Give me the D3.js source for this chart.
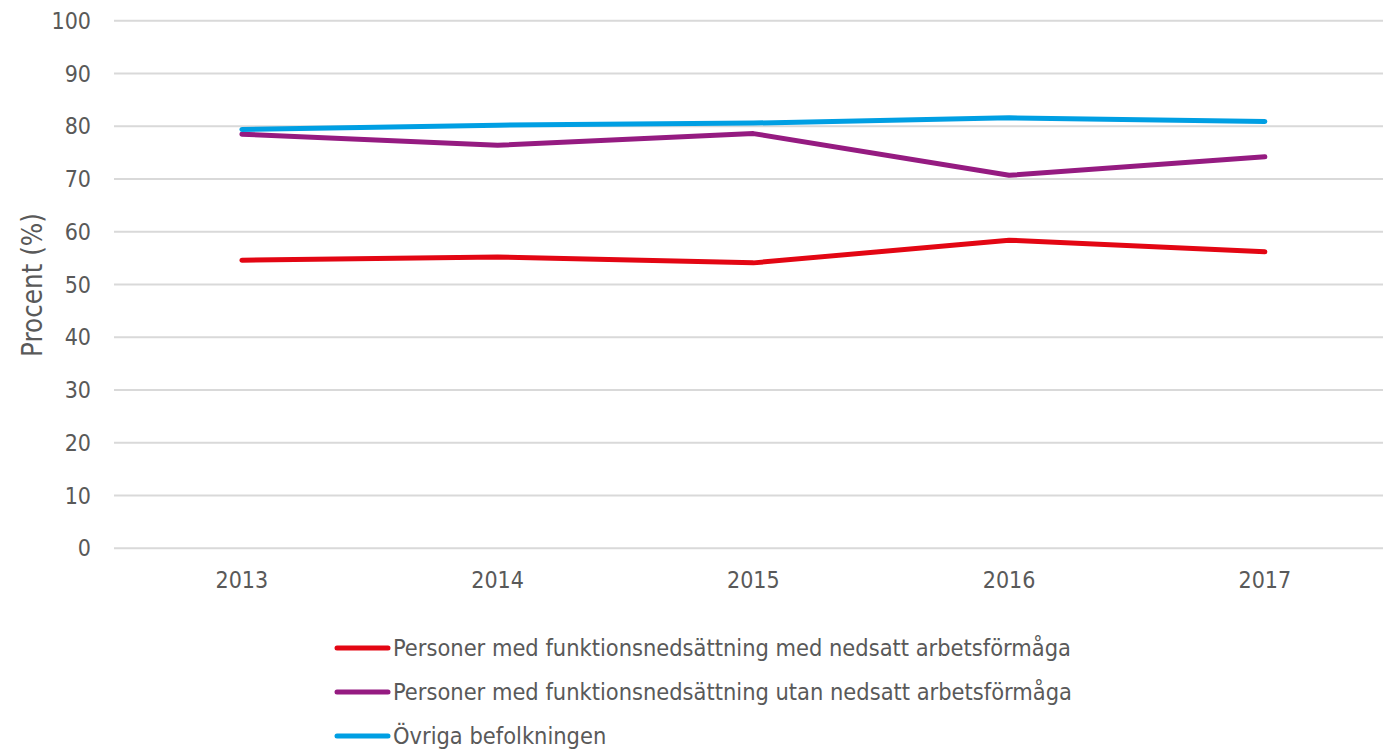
<!DOCTYPE html>
<html>
<head>
<meta charset="utf-8">
<script src="https://cdn.jsdelivr.net/npm/d3@7"></script>
<style>
  body { margin: 0; background: #fff; }
  text { font-family: "DejaVu Sans Condensed", "DejaVu Sans", sans-serif; fill: #595959; }
</style>
</head>
<body>
<svg width="1383" height="751"></svg>
<script>
var years = ["2013", "2014", "2015", "2016", "2017"];
var yTicks = [0, 10, 20, 30, 40, 50, 60, 70, 80, 90, 100];
var seriesNames = [
    "Personer med funktionsnedsättning med nedsatt arbetsförmåga",
    "Personer med funktionsnedsättning utan nedsatt arbetsförmåga",
    "Övriga befolkningen"
];
var colors = ["#e30613", "#951b81", "#009fe3"];
var medNedsatt = [54.6, 55.2, 54.1, 58.4, 56.2];
var utanNedsatt = [78.5, 76.4, 78.6, 70.7, 74.2];
var ovriga = [79.4, 80.2, 80.6, 81.6, 80.9];
var allSeries = [medNedsatt, utanNedsatt, ovriga];

var svg = d3.select("svg"),
    margin = {top: 20.7, left: 114, bottom: 548.3},
    plotRight = 1383;

var x = d3.scaleBand().domain(years).range([margin.left, margin.left + 5 * 255.75]);
var y = d3.scaleLinear().domain([0, 100]).range([margin.bottom, margin.top]);

// gridlines
svg.append("g")
    .selectAll("line")
    .data(yTicks)
    .enter()
    .append("line")
    .attr("x1", margin.left)
    .attr("x2", plotRight)
    .attr("y1", function (d) { return y(d); })
    .attr("y2", function (d) { return y(d); })
    .style("stroke", "#d9d9d9")
    .style("stroke-width", "2px");

// y tick labels
svg.append("g")
    .selectAll("text")
    .data(yTicks)
    .enter()
    .append("text")
    .attr("x", 91)
    .attr("y", function (d) { return y(d); })
    .attr("dy", "0.35em")
    .attr("text-anchor", "end")
    .style("font-size", "23px")
    .text(function (d) { return d; });

// x tick labels
svg.append("g")
    .selectAll("text")
    .data(years)
    .enter()
    .append("text")
    .attr("x", function (d) { return x(d) + x.bandwidth() / 2; })
    .attr("y", 580)
    .attr("dy", "0.35em")
    .attr("text-anchor", "middle")
    .style("font-size", "23px")
    .text(function (d) { return d; });

// y axis title
svg.append("text")
    .attr("transform", "translate(32,285) rotate(-90)")
    .attr("text-anchor", "middle")
    .attr("dy", "0.35em")
    .style("font-size", "27.5px")
    .text("Procent (%)");

var line = d3.line()
    .x(function (d, i) { return x(years[i]) + x.bandwidth() / 2; })
    .y(function (d) { return y(d); });

svg.append("g")
    .selectAll("path")
    .data(allSeries)
    .enter()
    .append("path")
    .attr("d", line)
    .style("fill", "none")
    .style("stroke", function (d, i) { return colors[i]; })
    .style("stroke-width", "5px")
    .style("stroke-linecap", "round")
    .style("stroke-linejoin", "round");

// legend
var legend = svg.append("g")
    .selectAll("g")
    .data(seriesNames)
    .enter()
    .append("g")
    .attr("transform", function (d, i) { return "translate(0," + (648 + i * 44) + ")"; });

legend.append("line")
    .attr("x1", 337)
    .attr("x2", 388)
    .style("stroke", function (d, i) { return colors[i]; })
    .style("stroke-width", "5px")
    .style("stroke-linecap", "round");

legend.append("text")
    .attr("x", 393)
    .attr("dy", "0.35em")
    .style("font-size", "23.4px")
    .text(function (d) { return d; });
</script>
</body>
</html>
